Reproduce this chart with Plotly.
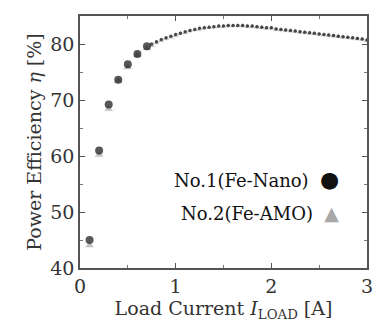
import plotly.graph_objects as go

current = [0.1, 0.2, 0.3, 0.4, 0.5, 0.6, 0.7, 0.75, 0.8, 0.85, 0.9, 0.95, 1.0, 1.05, 1.1, 1.15,
           1.2, 1.25, 1.3, 1.35, 1.4, 1.45, 1.5, 1.55, 1.6, 1.65, 1.7, 1.75, 1.8, 1.85, 1.9, 1.95,
           2.0, 2.05, 2.1, 2.15, 2.2, 2.25, 2.3, 2.35, 2.4, 2.45, 2.5, 2.55, 2.6, 2.65, 2.7, 2.75,
           2.8, 2.85, 2.9, 2.95, 3.0]
eff_nano = [45.0, 61.0, 69.2, 73.6, 76.4, 78.2, 79.6, 80.0, 80.4, 80.8, 81.1, 81.4, 81.7, 81.9,
            82.2, 82.4, 82.6, 82.8, 82.9, 83.0, 83.1, 83.2, 83.2, 83.3, 83.3, 83.3, 83.3, 83.2,
            83.2, 83.1, 83.0, 82.9, 82.9, 82.7, 82.6, 82.5, 82.4, 82.3, 82.2, 82.1, 82.0, 81.9,
            81.8, 81.7, 81.6, 81.5, 81.4, 81.3, 81.2, 81.1, 81.0, 80.9, 80.7]
eff_amo = [44.0, 60.2, 68.4, 73.4, 75.8, 78.0, 79.2, 79.7, 80.2, 80.6, 80.9, 81.2, 81.5, 81.8,
           82.0, 82.3, 82.5, 82.6, 82.8, 82.9, 83.0, 83.1, 83.1, 83.2, 83.2, 83.2, 83.2, 83.1,
           83.1, 83.0, 82.9, 82.8, 82.8, 82.6, 82.5, 82.4, 82.3, 82.2, 82.1, 82.0, 81.9, 81.8,
           81.7, 81.6, 81.5, 81.4, 81.3, 81.2, 81.1, 81.0, 80.9, 80.8, 80.6]

x_ticks = [0, 1, 2, 3]
y_ticks = [40, 50, 60, 70, 80]
legend_labels = ["No.1(Fe-Nano)", "No.2(Fe-AMO)"]

font_family = "DejaVu Serif"
black = "#111111"
gray = "#a8a8a8"

# sparse early points drawn larger than the dense later ones
size_nano = [8 if c <= 0.7 else 3.5 for c in current]
size_amo = [9 if c <= 0.7 else 7 for c in current]

fig = go.Figure()
fig.add_trace(go.Scatter(x=current, y=eff_amo, mode="markers",
                         marker=dict(symbol="triangle-up", size=size_amo, color=gray),
                         showlegend=False))
fig.add_trace(go.Scatter(x=current, y=eff_nano, mode="markers",
                         marker=dict(symbol="circle", size=size_nano, color=black,
                                     line=dict(width=0)), showlegend=False))

axis_common = dict(showline=True, linecolor="#555555", linewidth=1.5, mirror="ticks",
                   ticks="inside", ticklen=5, tickcolor="#555555", tickwidth=1.2,
                   showgrid=False, zeroline=False,
                   tickfont=dict(family=font_family, size=19, color="#333333"),
                   minor=dict(ticks="inside", ticklen=3, tickcolor="#777777", tickwidth=1))

fig.update_xaxes(range=[0, 3], tickvals=x_ticks, ticktext=[str(v) for v in x_ticks],
                 minor_dtick=0.5,
                 title=dict(text="Load Current <i>I</i><sub>LOAD</sub> [A]",
                            font=dict(family=font_family, size=19, color="#333333"),
                            standoff=2),
                 **axis_common)
fig.update_yaxes(range=[40, 85], tickvals=y_ticks, ticktext=[str(v) for v in y_ticks],
                 minor_dtick=5,
                 title=dict(text="Power Efficiency <i>η</i> [%]",
                            font=dict(family=font_family, size=19, color="#333333"),
                            standoff=4),
                 **axis_common)

fig.add_annotation(xref="paper", yref="paper", x=0.91, y=0.35, xanchor="right", yanchor="middle",
                   showarrow=False,
                   text=legend_labels[0] + '&nbsp;&nbsp;<span style="color:#111111;font-size:22px">●</span>',
                   font=dict(family=font_family, size=18, color="#111111"))
fig.add_annotation(xref="paper", yref="paper", x=0.91, y=0.22, xanchor="right", yanchor="middle",
                   showarrow=False,
                   text=legend_labels[1] + '&nbsp;&nbsp;<span style="color:#a8a8a8;font-size:19px">▲</span>',
                   font=dict(family=font_family, size=18, color="#111111"))

fig.update_layout(width=382, height=323, margin=dict(l=80, r=9, t=16, b=55),
                  plot_bgcolor="white", paper_bgcolor="white", showlegend=False)

fig.write_html("out.html")
